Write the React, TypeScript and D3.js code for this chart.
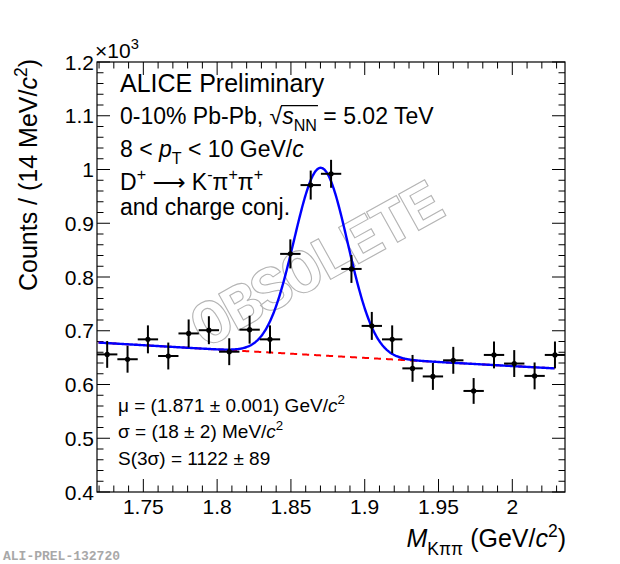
import { useEffect, useRef } from 'react';
import * as d3 from 'd3';

const WIDTH = 620;
const HEIGHT = 564;

// Invariant mass bin centres (GeV/c^2)
const MASS = [
  1.7255, 1.7393, 1.7531, 1.7669, 1.7807, 1.7944, 1.8082, 1.8220, 1.8358, 1.8496, 1.8634, 1.8772,
  1.8910, 1.9048, 1.9186, 1.9324, 1.9462, 1.9600, 1.9738, 1.9876, 2.0013, 2.0151, 2.0289,
];
// Counts per bin (x10^3)
const COUNTS = [
  0.656, 0.647, 0.684, 0.653, 0.695, 0.701, 0.661, 0.702, 0.684, 0.843, 0.971, 0.992,
  0.815, 0.709, 0.684, 0.630, 0.615, 0.645, 0.588, 0.655, 0.639, 0.616, 0.655,
];
// Statistical errors (x10^3)
const ERRORS = [
  0.025, 0.025, 0.026, 0.025, 0.026, 0.026, 0.025, 0.026, 0.026, 0.027, 0.027, 0.026,
  0.026, 0.026, 0.026, 0.025, 0.025, 0.025, 0.024, 0.025, 0.025, 0.025, 0.025,
];
const BIN_HALF_WIDTH = 0.0069;

// Fit: exponential background + gaussian signal
const FIT_RANGE = [1.7196, 2.0289];
const BKG_NORM = 0.678;
const BKG_REF = 1.7196;
const BKG_SLOPE = -0.2377;
const SIG_AMP = 0.349;
const SIG_MEAN = 1.8703;
const SIG_SIGMA = 0.0182;

const X_DOMAIN = [1.7186, 2.0357];
const Y_DOMAIN = [0.4, 1.2];
const X_MAJOR = [1.75, 1.8, 1.85, 1.9, 1.95, 2.0];
const X_LABELS = ['1.75', '1.8', '1.85', '1.9', '1.95', '2'];
const Y_MAJOR = [0.4, 0.5, 0.6, 0.7, 0.8, 0.9, 1.0, 1.1, 1.2];
const Y_LABELS = ['0.4', '0.5', '0.6', '0.7', '0.8', '0.9', '1', '1.1', '1.2'];

const FONT = '"Liberation Sans", Arial, Helvetica, sans-serif';
const MONO = '"Liberation Mono", "DejaVu Sans Mono", monospace';

type Part = { t: string; it?: boolean; sub?: boolean; sup?: boolean; cls?: string; font?: string };

function rich(
  parent: d3.Selection<any, unknown, null, undefined>,
  x: number,
  y: number,
  parts: Part[],
  fs: number,
  anchor = 'start',
) {
  const text = parent.append('text')
    .attr('x', x)
    .attr('y', y)
    .attr('font-size', fs)
    .attr('text-anchor', anchor)
    .style('white-space', 'pre');
  let shift = 0;
  parts.forEach(p => {
    const target = p.sup ? -0.42 * fs : p.sub ? 0.3 * fs : 0;
    const ts = text.append('tspan').attr('dy', target - shift).text(p.t);
    if (p.sup || p.sub) ts.attr('font-size', fs * 0.7);
    if (p.it) ts.attr('font-style', 'italic');
    if (p.cls) ts.attr('class', p.cls);
    if (p.font) ts.attr('font-family', p.font);
    shift = target;
  });
  return text;
}

export default function App() {
  const svgRef = useRef<SVGSVGElement>(null);

  useEffect(() => {
    if (!svgRef.current) return;
    const svg = d3.select(svgRef.current);
    svg.selectAll('*').remove();

    const margin = { top: 62, right: 55, bottom: 72, left: 97 };
    const innerW = WIDTH - margin.left - margin.right;
    const innerH = HEIGHT - margin.top - margin.bottom;

    const x = d3.scaleLinear().domain(X_DOMAIN).range([0, innerW]);
    const y = d3.scaleLinear().domain(Y_DOMAIN).range([innerH, 0]);

    const root = svg.append('g').attr('font-family', FONT).attr('fill', '#000');
    const g = root.append('g').attr('transform', `translate(${margin.left},${margin.top})`);

    // OBSOLETE stamp
    g.append('text')
      .attr('transform', `translate(${317 - margin.left},${268 - margin.top}) rotate(-29)`)
      .attr('text-anchor', 'middle')
      .attr('dominant-baseline', 'central')
      .attr('font-family', MONO)
      .attr('font-weight', 'bold')
      .attr('font-size', 63)
      .attr('letter-spacing', -3.5)
      .attr('fill', 'none')
      .attr('stroke', '#b4b4b4')
      .attr('stroke-width', 1.1)
      .text('OBSOLETE');

    // Ticks
    const xMinor = d3.range(172, 204).map(v => v / 100);
    const yMinor = d3.range(20, 61).map(v => v / 50);
    const tick = (x1: number, y1: number, x2: number, y2: number) =>
      g.append('line').attr('x1', x1).attr('y1', y1).attr('x2', x2).attr('y2', y2)
        .attr('stroke', '#000').attr('stroke-width', 1);
    xMinor.forEach(v => {
      const major = X_MAJOR.some(m => Math.abs(m - v) < 1e-6);
      const len = major ? 13 : 6.5;
      tick(x(v), innerH, x(v), innerH - len);
      tick(x(v), 0, x(v), len);
    });
    yMinor.forEach(v => {
      const major = Y_MAJOR.some(m => Math.abs(m - v) < 1e-6);
      const len = major ? 13 : 6.5;
      tick(0, y(v), len, y(v));
      tick(innerW, y(v), innerW - len, y(v));
    });

    // Tick labels
    X_MAJOR.forEach((v, i) => {
      g.append('text')
        .attr('x', x(v))
        .attr('y', innerH + 22)
        .attr('text-anchor', 'middle')
        .attr('font-size', 21)
        .text(X_LABELS[i]);
    });
    Y_MAJOR.forEach((v, i) => {
      g.append('text')
        .attr('x', -3)
        .attr('y', y(v) + 7.5)
        .attr('text-anchor', 'end')
        .attr('font-size', 21)
        .text(Y_LABELS[i]);
    });

    // x10^3
    rich(root, 95, 58, [{ t: '×10' }, { t: '3', sup: true }], 21);

    // Fit curves
    const fitX = d3.range(FIT_RANGE[0], FIT_RANGE[1] + 1e-9, 0.0005);
    const bkg = (m: number) => BKG_NORM * Math.exp(BKG_SLOPE * (m - BKG_REF));
    const total = (m: number) => bkg(m) + SIG_AMP * Math.exp(-0.5 * ((m - SIG_MEAN) / SIG_SIGMA) ** 2);
    const line = d3.line<number>().x(d => x(d));

    g.append('path')
      .attr('d', line.y(d => y(bkg(d)))(fitX))
      .attr('fill', 'none')
      .attr('stroke', '#ff0000')
      .attr('stroke-width', 2)
      .attr('stroke-dasharray', '7,5');

    g.append('path')
      .attr('d', line.y(d => y(total(d)))(fitX))
      .attr('fill', 'none')
      .attr('stroke', '#0000ff')
      .attr('stroke-width', 2.4);

    // Data points
    MASS.forEach((m, i) => {
      const c = COUNTS[i];
      const e = ERRORS[i];
      g.append('line')
        .attr('x1', x(m)).attr('x2', x(m))
        .attr('y1', y(c - e)).attr('y2', y(c + e))
        .attr('stroke', '#000').attr('stroke-width', 2);
      g.append('line')
        .attr('x1', x(m - BIN_HALF_WIDTH)).attr('x2', x(Math.min(m + BIN_HALF_WIDTH, X_DOMAIN[1])))
        .attr('y1', y(c)).attr('y2', y(c))
        .attr('stroke', '#000').attr('stroke-width', 2);
      g.append('circle')
        .attr('cx', x(m)).attr('cy', y(c)).attr('r', 2.6).attr('fill', '#000');
    });

    // Frame
    g.append('rect')
      .attr('width', innerW).attr('height', innerH)
      .attr('fill', 'none').attr('stroke', '#000').attr('stroke-width', 1.2);

    // Axis titles
    rich(root, 566, 547, [
      { t: 'M', it: true }, { t: 'Kππ', sub: true }, { t: ' (GeV/' }, { t: 'c', it: true }, { t: '2', sup: true }, { t: ')' },
    ], 25, 'end');

    const yTitle = root.append('g').attr('transform', 'translate(37,59) rotate(-90)');
    rich(yTitle, 0, 0, [
      { t: 'Counts / (14 MeV/' }, { t: 'c', it: true }, { t: '2', sup: true }, { t: ')' },
    ], 25, 'end');

    // Legend texts
    rich(root, 120, 92, [{ t: 'ALICE Preliminary' }], 25);
    rich(root, 120, 124, [
      { t: '0-10% Pb-Pb, ' }, { t: '√', cls: 'rad' }, { t: 's', it: true, cls: 'rad-s' },
      { t: 'NN', sub: true, cls: 'rad-nn' }, { t: ' = 5.02 TeV' },
    ], 23);
    rich(root, 120, 157, [
      { t: '8 < ' }, { t: 'p', it: true }, { t: 'T', sub: true }, { t: ' < 10 GeV/' }, { t: 'c', it: true },
    ], 23);
    rich(root, 120, 190, [
      { t: 'D' }, { t: '+', sup: true }, { t: ' ' }, { t: '⟶', font: '"DejaVu Sans", sans-serif' }, { t: ' K' },
      { t: '-', sup: true }, { t: 'π' }, { t: '+', sup: true }, { t: 'π' }, { t: '+', sup: true },
    ], 23);
    rich(root, 120, 215, [{ t: 'and charge conj.' }], 23);

    rich(root, 118, 412, [
      { t: 'μ = (1.871 ± 0.001) GeV/' }, { t: 'c', it: true }, { t: '2', sup: true },
    ], 19);
    rich(root, 118, 438, [
      { t: 'σ = (18 ± 2) MeV/' }, { t: 'c', it: true }, { t: '2', sup: true },
    ], 19);
    rich(root, 118, 465, [{ t: 'S(3σ) = 1122 ± 89' }], 19);

    // Radical overline
    const radNode = root.select<SVGTSpanElement>('tspan.rad').node();
    const nnNode = root.select<SVGTSpanElement>('tspan.rad-nn').node();
    if (radNode && nnNode) {
      try {
        const rb = radNode.getBBox();
        const nb = nnNode.getBBox();
        root.append('line')
          .attr('x1', rb.x + rb.width - 1.5)
          .attr('x2', nb.x + nb.width + 1)
          .attr('y1', 124 - 0.8 * 23)
          .attr('y2', 124 - 0.8 * 23)
          .attr('stroke', '#000')
          .attr('stroke-width', 1.2);
      } catch (err) {
        // bbox not available
      }
    }

    // Preliminary ID
    root.append('text')
      .attr('x', 3)
      .attr('y', 560)
      .attr('font-family', MONO)
      .attr('font-weight', 'bold')
      .attr('font-size', 13)
      .attr('fill', '#a8a8a8')
      .text('ALI-PREL-132720');
  }, []);

  return (
    <div style={{ position: 'absolute', left: 0, top: 0, width: WIDTH, height: HEIGHT, background: '#fff' }}>
      <svg ref={svgRef} width={WIDTH} height={HEIGHT} />
    </div>
  );
}
